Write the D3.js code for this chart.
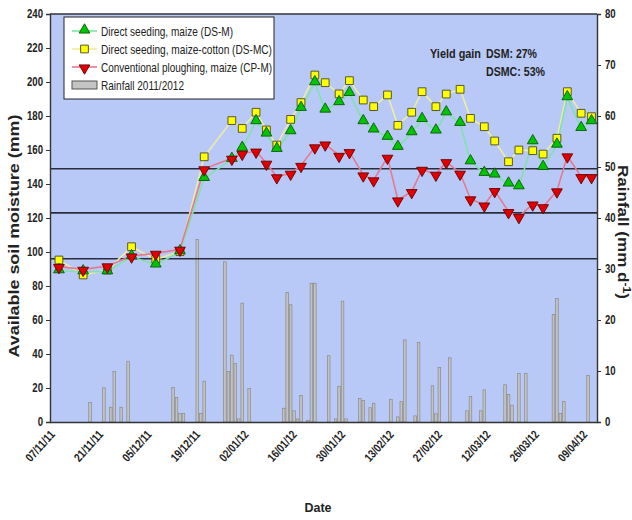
<!DOCTYPE html>
<html>
<head>
<meta charset="utf-8">
<script src="https://cdn.jsdelivr.net/npm/d3@7"></script>
<style>
  body { margin: 0; background: #fff; }
  svg { display: block; }
  text { font-family: 'Liberation Sans', Arial, sans-serif; fill: #222; }
</style>
</head>
<body>
<svg id="chart" width="632" height="520"></svg>
<script>
// Soil-moisture sampling dates and the three treatments (mm)
const sampleDates = [
  "2011-11-09","2011-11-16","2011-11-23","2011-11-30","2011-12-07","2011-12-14","2011-12-21",
  "2011-12-29","2012-01-01","2012-01-05","2012-01-08","2012-01-11","2012-01-15","2012-01-18",
  "2012-01-22","2012-01-25","2012-01-29","2012-02-01","2012-02-05","2012-02-08","2012-02-12",
  "2012-02-15","2012-02-19","2012-02-22","2012-02-26","2012-02-29","2012-03-04","2012-03-07",
  "2012-03-11","2012-03-14","2012-03-18","2012-03-21","2012-03-25","2012-03-28","2012-04-01",
  "2012-04-04","2012-04-08","2012-04-11"
];
const dsM = [89.0, 88.4, 88.4, 97.3, 92.4, 100.2, 143.3, 154.5, 161, 176.7, 169.4, 160.4, 170.8,
  184.5, 199.6, 183.5, 187.9, 193.3, 176.7, 171.8, 167.5, 161.6, 170.2, 178.0, 171.2, 181.9,
  175.7, 153.1, 146.3, 145.3, 140, 138.4, 164.9, 149.8, 162.9, 190.8, 172.7, 176.7];
const dsMC = [95.3, 86.5, 89.4, 103.1, 95.7, 100.2, 156, 177.3, 172.7, 182.2, 171.8, 162.9, 178.0,
  187.9, 204.1, 199.6, 193.0, 200.8, 189.4, 185.5, 192.4, 174.5, 182.2, 194.3, 185.5, 192.9,
  195.7, 178.6, 173.7, 165.3, 153.1, 160, 159.6, 157.6, 166.9, 194.3, 181.6, 179.6];
const cpM = [91.4, 89.8, 91.8, 97.6, 99.2, 101.6, 148.9, 155.1, 158, 159.3, 152.2, 144.2, 146.3,
  150.9, 161.8, 163.5, 156.8, 159, 145.3, 142.4, 155.7, 130.6, 135.5, 148.6, 145.7, 153.1,
  146.3, 131.2, 127.6, 136.1, 123.7, 120.8, 128.2, 126.6, 135.9, 156.5, 144.3, 144.3];

// Daily rainfall 2011/2012 (mm per day)
const rainDates = [
  "2011-11-18","2011-11-22","2011-11-24","2011-11-25","2011-11-27","2011-11-29",
  "2011-12-12","2011-12-13","2011-12-14","2011-12-15","2011-12-19","2011-12-20","2011-12-21",
  "2011-12-27","2011-12-28","2011-12-29","2011-12-30","2011-12-31","2012-01-01","2012-01-03",
  "2012-01-13","2012-01-14","2012-01-15","2012-01-16","2012-01-17","2012-01-18","2012-01-20",
  "2012-01-21","2012-01-22","2012-01-26","2012-01-28","2012-01-29","2012-01-30","2012-01-31",
  "2012-02-04","2012-02-05","2012-02-07","2012-02-08","2012-02-13","2012-02-15","2012-02-16",
  "2012-02-17","2012-02-20","2012-02-21","2012-02-25","2012-02-26","2012-02-27","2012-03-01",
  "2012-03-06","2012-03-07","2012-03-10","2012-03-11","2012-03-17","2012-03-18","2012-03-19",
  "2012-03-21","2012-03-23","2012-03-31","2012-04-01","2012-04-02","2012-04-03","2012-04-10"
];
const rainMm = [
  3.8, 6.7, 2.9, 9.9, 2.9, 11.9,
  6.8, 4.8, 1.7, 1.7, 35.8, 1.7, 8.0,
  31.4, 9.9, 13.1, 11.5, 0.6, 23.3, 6.6,
  2.7, 25.4, 23.0, 2.2, 0.6, 5.2, 0.3,
  27.2, 27.2, 13.0, 0.6, 7.0, 23.7, 0.6,
  4.6, 4.2, 2.8, 3.7, 4.4, 1.0, 4.0,
  16.1, 1.2, 15.6, 7.1, 1.6, 10.7, 12.6,
  2.2, 5.0, 2.2, 6.3, 7.3, 5.4, 3.3,
  9.5, 9.5, 21.1, 24.2, 1.7, 4.0, 9.1
];

// Reference soil-moisture levels (mm)
const refLevels = [149, 123, 96];

const xTickDates = ["2011-11-07","2011-11-21","2011-12-05","2011-12-19","2012-01-02","2012-01-16",
  "2012-01-30","2012-02-13","2012-02-27","2012-03-12","2012-03-26","2012-04-09"];
const moistureTicks = [0, 20, 40, 60, 80, 100, 120, 140, 160, 180, 200, 220, 240];
const rainTicks = [0, 10, 20, 30, 40, 50, 60, 70, 80];

const seriesNames = ["Direct seeding, maize (DS-M)", "Direct seeding, maize-cotton (DS-MC)",
  "Conventional ploughing, maize (CP-M)", "Rainfall 2011/2012"];

const parse = d3.utcParse("%Y-%m-%d");
const fmt = d3.utcFormat("%d/%m/%y");

const plot = { left: 50, right: 597, top: 14, bottom: 422 };
const svg = d3.select("#chart");

// condensed lettering: squeeze each text to a fraction of its natural width
function squeeze(sel, factor) {
  sel.each(function () {
    const w = this.getComputedTextLength();
    d3.select(this).attr("textLength", w * factor).attr("lengthAdjust", "spacingAndGlyphs");
  });
}
function fitTo(sel, width) {
  sel.attr("textLength", width).attr("lengthAdjust", "spacingAndGlyphs");
}

const x = d3.scaleUtc()
  .domain([new Date(Date.UTC(2011, 10, 6, 10)), new Date(Date.UTC(2012, 3, 12, 14))])
  .range([plot.left, plot.right]);
const yL = d3.scaleLinear().domain([0, 240]).range([plot.bottom, plot.top]);
const yR = d3.scaleLinear().domain([0, 80]).range([plot.bottom, plot.top]);

// plot background
svg.append("rect")
  .attr("x", plot.left).attr("y", plot.top)
  .attr("width", plot.right - plot.left).attr("height", plot.bottom - plot.top)
  .attr("fill", "#b9c9f7");

// rainfall bars
const barW = 2.6;
svg.append("g").selectAll("rect")
  .data(rainDates.map((d, i) => ({ date: parse(d), v: rainMm[i] })))
  .join("rect")
  .attr("x", d => x(d.date) - barW / 2)
  .attr("y", d => yR(d.v))
  .attr("width", barW)
  .attr("height", d => yR(0) - yR(d.v))
  .attr("fill", "#c2c2c2")
  .attr("stroke", "#8a8a8a")
  .attr("stroke-width", 0.7);

// reference level lines
svg.append("g").selectAll("line")
  .data(refLevels)
  .join("line")
  .attr("x1", plot.left).attr("x2", plot.right)
  .attr("y1", d => yL(d)).attr("y2", d => yL(d))
  .attr("stroke", "#2a2e3c").attr("stroke-width", 1.6);

const dates = sampleDates.map(parse);
const series = [
  { values: dsMC, line: "#ececa4", type: "square", fill: "#ffff00", stroke: "#4a4a20" },
  { values: dsM, line: "#80e2aa", type: "up", fill: "#00c400", stroke: "#0a5a0a" },
  { values: cpM, line: "#e37a92", type: "down", fill: "#e00000", stroke: "#6a0000" }
];

function markerPath(type) {
  if (type === "square") return d3.symbol(d3.symbolSquare, 60)();
  return d3.symbol(d3.symbolTriangle, 50)();
}
function markerTransform(type, px, py) {
  if (type === "down") return `translate(${px},${py + 1}) rotate(180)`;
  if (type === "up") return `translate(${px},${py - 1})`;
  return `translate(${px},${py})`;
}

const lineGen = d3.line().x((d, i) => x(dates[i])).y(d => yL(d));
series.forEach(s => {
  svg.append("path")
    .datum(s.values)
    .attr("d", lineGen)
    .attr("fill", "none")
    .attr("stroke", s.line)
    .attr("stroke-width", 1.6);
});
series.forEach(s => {
  svg.append("g").selectAll("path")
    .data(s.values)
    .join("path")
    .attr("d", markerPath(s.type))
    .attr("transform", (d, i) => markerTransform(s.type, x(dates[i]), yL(d)))
    .attr("fill", s.fill)
    .attr("stroke", s.stroke)
    .attr("stroke-width", 0.9);
});

// axes
const axisColor = "#333";
const gL = svg.append("g").attr("transform", `translate(${plot.left},0)`)
  .call(d3.axisLeft(yL).tickValues(moistureTicks).tickSize(4).tickPadding(3));
const gR = svg.append("g").attr("transform", `translate(${plot.right},0)`)
  .call(d3.axisRight(yR).tickValues(rainTicks).tickSize(4).tickPadding(4));
const gB = svg.append("g").attr("transform", `translate(0,${plot.bottom})`)
  .call(d3.axisBottom(x).tickValues(xTickDates.map(parse)).tickFormat(fmt).tickSize(0).tickPadding(0));

[gL, gR, gB].forEach(g => {
  g.select(".domain").attr("stroke", axisColor).attr("stroke-width", 1.4);
  g.selectAll(".tick line").attr("stroke", axisColor);
  g.selectAll("text")
    .style("font-family", "'Liberation Sans', Arial, sans-serif")
    .attr("fill", "#222")
    .style("font-size", "12px")
    .style("font-weight", "bold");
});
squeeze(gL.selectAll(".tick text"), 0.8);
squeeze(gR.selectAll(".tick text"), 0.8);
gB.selectAll(".tick text")
  .style("font-size", "12px")
  .attr("text-anchor", "end")
  .attr("y", 0).attr("dy", 0)
  .attr("transform", "translate(3,13) rotate(-48)")
  .call(fitTo, 37);

// top frame line
svg.append("line")
  .attr("x1", plot.left).attr("x2", plot.right)
  .attr("y1", plot.top).attr("y2", plot.top)
  .attr("stroke", axisColor).attr("stroke-width", 1.4);

// axis titles
svg.append("text")
  .attr("transform", "translate(19,236) rotate(-90)")
  .attr("text-anchor", "middle")
  .style("font-size", "14px").style("font-weight", "bold")
  .text("Available soil moisture (mm)")
  .call(fitTo, 243);

const rt = svg.append("text")
  .attr("transform", "translate(618,232) rotate(90)")
  .attr("text-anchor", "middle")
  .style("font-size", "14px").style("font-weight", "bold");
rt.append("tspan").text("Rainfall (mm d");
rt.append("tspan").attr("dy", -5).style("font-size", "10px").text("-1");
rt.append("tspan").attr("dy", 5).text(")");
fitTo(rt, 134);

svg.append("text")
  .attr("x", 318).attr("y", 512)
  .attr("text-anchor", "middle")
  .style("font-size", "13px").style("font-weight", "bold")
  .text("Date")
  .call(fitTo, 27);

// yield annotation
const ann = svg.append("g").style("font-size", "13px").style("font-weight", "bold");
ann.append("text").attr("x", 430).attr("y", 58).text("Yield gain").call(fitTo, 51);
ann.append("text").attr("x", 486).attr("y", 58).text("DSM: 27%").call(fitTo, 51);
ann.append("text").attr("x", 486).attr("y", 76).text("DSMC: 53%").call(fitTo, 59);

// legend
const lg = svg.append("g");
lg.append("rect")
  .attr("x", 64).attr("y", 17).attr("width", 210).attr("height", 82)
  .attr("fill", "#fff").attr("stroke", "#222").attr("stroke-width", 1);
const legendSeries = [series[1], series[0], series[2]];
const legendWidths = [132, 171, 171, 83];
legendSeries.forEach((s, i) => {
  const ly = 31 + i * 18;
  lg.append("line").attr("x1", 72).attr("x2", 97).attr("y1", ly).attr("y2", ly)
    .attr("stroke", s.line).attr("stroke-width", 1.6);
  lg.append("path").attr("d", markerPath(s.type))
    .attr("transform", markerTransform(s.type, 84.5, ly))
    .attr("fill", s.fill).attr("stroke", s.stroke).attr("stroke-width", 0.9);
  lg.append("text").attr("x", 101).attr("y", ly + 4.5)
    .style("font-size", "13px").text(seriesNames[i]).call(fitTo, legendWidths[i]);
});
lg.append("rect").attr("x", 72).attr("y", 81).attr("width", 25).attr("height", 8)
  .attr("fill", "#c4c4c4").attr("stroke", "#555").attr("stroke-width", 1);
lg.append("text").attr("x", 101).attr("y", 89.5)
  .style("font-size", "13px").text(seriesNames[3]).call(fitTo, legendWidths[3]);
</script>
</body>
</html>
